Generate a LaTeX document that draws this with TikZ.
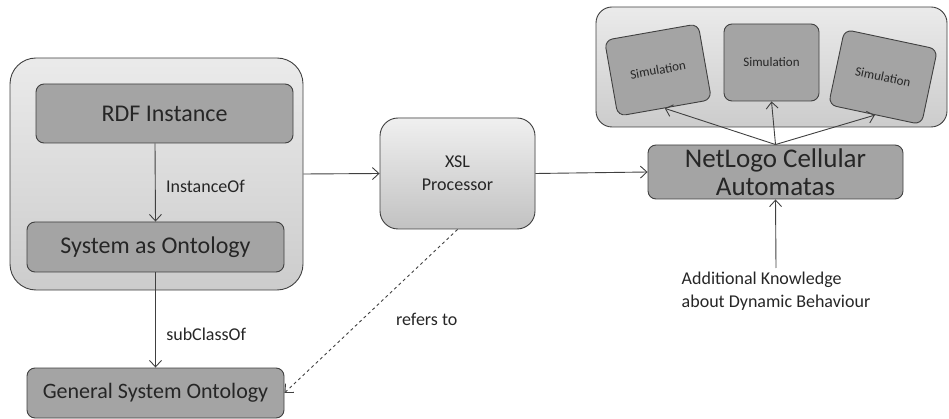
\documentclass[tikz,border=0pt]{standalone}
\usepackage{fontspec}
\setmainfont{Carlito}
\usepackage{tikz}
\usetikzlibrary{arrows.meta}
\definecolor{edge}{HTML}{404040}
\definecolor{darkbox}{HTML}{A4A4A4}

\begin{document}
\begin{tikzpicture}[x=1pt,y=-1pt,
    cont/.style={draw=edge,line width=0.9pt,rounded corners=26pt,top color=white!92!black,bottom color=white!80!black,inner sep=0pt},
    box/.style={draw=edge,line width=0.9pt,rounded corners=8pt,fill=darkbox,text=black!85,inner sep=0pt,align=center},
    simbox/.style={box,minimum width=95pt,minimum height=77pt,font=\fontsize{13}{15}\selectfont},
    lbl/.style={text=black!85,font=\fontsize{18}{23}\selectfont},
    >={Straight Barb[length=6.5pt,width=12pt]},
    link/.style={draw=edge,line width=0.9pt,->}]
            \useasboundingbox (0,0) rectangle (949,419);
            % containers
            \node [cont, minimum width=293pt, minimum height=232pt] (lbox) at (156.5,174) {};
            \node [cont, rounded corners=16pt, minimum width=351pt, minimum height=120pt] (tbox) at (771.5,67) {};
            % boxes on the left
            \node [box, minimum width=257pt, minimum height=59pt, font=\fontsize{24}{28}\selectfont] (rdf) at (164.5,113.5) {RDF Instance};
            \node [box, minimum width=257pt, minimum height=50pt, font=\fontsize{24}{28}\selectfont] (sao) at (155.5,247) {System as Ontology};
            \node [box, minimum width=257pt, minimum height=50pt, font=\fontsize{22}{26}\selectfont] (gso) at (155.5,393) {General System Ontology};
            % processor and automata
            \node [box, rounded corners=18pt, top color=white!94!black, bottom color=white!76!black, minimum width=155pt, minimum height=111pt, font=\fontsize{18}{23}\selectfont] (xsl) at (457.5,173.5) {XSL\\Processor};
            \node [box, minimum width=255pt, minimum height=54pt, font=\fontsize{27}{28}\selectfont] (nla) at (775.5,172) {NetLogo Cellular\\Automatas};
            % simulations
            \node [simbox, rotate=10] (sim1) at (658,70) {Simulation};
            \node [simbox] (sim2) at (771.5,62.5) {Simulation};
            \node [simbox, rotate=-12] (sim3) at (883,77) {Simulation};
            \node [lbl, align=left, anchor=north] (know) at (776,268) {Additional Knowledge\\about Dynamic Behaviour};
            % connectors
            \draw [link] (rdf.south -| 155,0) -- node [lbl, right, pos=0.55, xshift=7pt] {InstanceOf} (sao.north);
            \draw [link] (sao.south) -- node [lbl, right, pos=0.65, xshift=7pt] {subClassOf} (gso.north);
            \draw [link] (lbox.east) -- (xsl.west);
            \draw [link] (xsl.east) -- (nla.west);
            \draw [link] (nla.north) -- (sim1.south);
            \draw [link] (nla.north) -- (sim2.south);
            \draw [link] (nla.north) -- (sim3.south);
            \draw [link] (know.north) -- (nla.south);
            \draw [link, dashed] (xsl.south) -- node [lbl, right, pos=0.55, xshift=30pt] {refers to} (gso.east);
        \end{tikzpicture}
\end{document}
